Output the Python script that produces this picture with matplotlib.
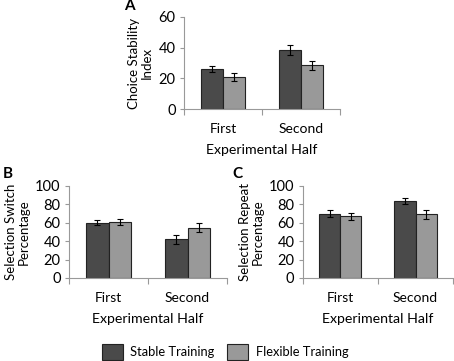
import numpy as np
import matplotlib
matplotlib.use("Agg")
import matplotlib.pyplot as plt
from matplotlib.patches import Patch

plt.rcParams["font.family"] = ["Lato", "DejaVu Sans"]

halves = ["First", "Second"]
series = ["Stable Training", "Flexible Training"]
colors = ["#4a4a4a", "#999999"]

stability = [[26, 38.5], [21, 28.5]]
stability_err = [[2, 3], [2.5, 3]]
switch = [[60, 42], [61, 54.5]]
switch_err = [[3, 5], [3, 5]]
repeat = [[70, 83.5], [67, 69]]
repeat_err = [[3.5, 3.5], [4, 5]]

# letter, axes rect, letter position, ylabel, values, errors, ymax
panels = [
    ("A", [0.405, 0.698, 0.344, 0.255], (0.274, 0.965), "Choice Stability\nIndex", stability, stability_err, 60),
    ("B", [0.152, 0.230, 0.348, 0.255], (0.006, 0.498), "Selection Switch\nPercentage", switch, switch_err, 100),
    ("C", [0.667, 0.230, 0.331, 0.255], (0.511, 0.498), "Selection Repeat\nPercentage", repeat, repeat_err, 100),
]

fig = plt.figure(figsize=(4.54, 3.61), dpi=100)
x = np.arange(len(halves))
w = 0.28
for letter, rect, lpos, ylab, vals, errs, ymax in panels:
    ax = fig.add_axes(rect)
    for i, (v, e, c) in enumerate(zip(vals, errs, colors)):
        ax.bar(x + (i - 0.5) * w, v, w, color=c, edgecolor="#222222", lw=0.8,
               yerr=e, capsize=2.5, error_kw=dict(lw=0.8, capthick=0.8, ecolor="black"), zorder=2)
    ax.set_xlim(-0.5, 1.5)
    ax.set_ylim(0, ymax)
    ax.set_yticks(np.arange(0, ymax + 1, 20))
    ax.set_xticks([-0.5, 0.5, 1.5])
    ax.set_xticklabels([])
    ax.set_xticks(x, minor=True)
    ax.set_xticklabels(halves, minor=True)
    ax.tick_params(axis="x", which="major", length=4, color="#999999", direction="out")
    ax.tick_params(axis="x", which="minor", length=0, pad=10, labelsize=10)
    ax.tick_params(axis="y", length=3, color="#999999", labelsize=10.5, pad=3)
    for s in ["top", "right"]:
        ax.spines[s].set_visible(False)
    for s in ["left", "bottom"]:
        ax.spines[s].set_color("#999999")
    ax.set_ylabel(ylab, fontsize=9.5, linespacing=1.05, labelpad=4)
    ax.set_xlabel("Experimental Half", fontsize=10.2, labelpad=6.5)
    fig.text(lpos[0], lpos[1], letter, fontsize=11, fontweight="bold", ha="left", va="bottom")

handles = [Patch(facecolor=c, edgecolor="#222222", lw=0.8) for c in colors]
fig.legend(handles, series, loc="center", bbox_to_anchor=(0.496, 0.025), ncol=2,
           frameon=False, fontsize=9.3, handlelength=1.6, handleheight=1.6,
           columnspacing=1.0, handletextpad=0.6, borderpad=0.2)

fig.savefig("out.png", dpi=100)
